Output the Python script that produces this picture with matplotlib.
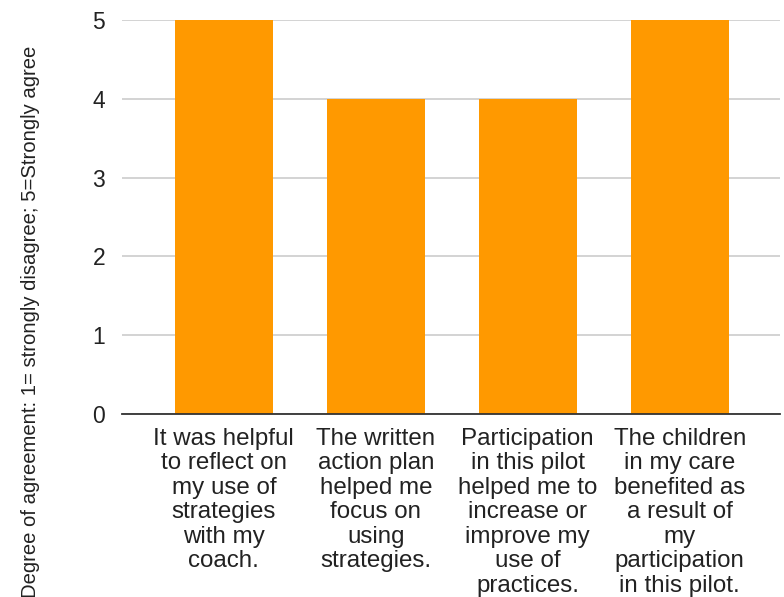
import matplotlib
matplotlib.use("Agg")
import matplotlib.pyplot as plt

categories = [
    "It was helpful\nto reflect on\nmy use of\nstrategies\nwith my\ncoach.",
    "The written\naction plan\nhelped me\nfocus on\nusing\nstrategies.",
    "Participation\nin this pilot\nhelped me to\nincrease or\nimprove my\nuse of\npractices.",
    "The children\nin my care\nbenefited as\na result of\nmy\nparticipation\nin this pilot.",
]
scores = [5, 4, 4, 5]
y_ticks = [0, 1, 2, 3, 4, 5]
y_label = "Degree of agreement: 1= strongly disagree; 5=Strongly agree"

plt.rcParams["font.family"] = ["Liberation Sans", "DejaVu Sans"]

W, H = 784, 597
fig = plt.figure(figsize=(W / 100, H / 100), dpi=100)
ax = fig.add_axes([122 / W, 1 - 414 / H, (780 - 122) / W, (414 - 20) / H])

x = list(range(len(categories)))
ax.bar(x, scores, width=0.645, color="#FF9900", zorder=3)

ax.set_xlim(-0.67, len(categories) - 1 + 0.66)
ax.set_ylim(0, 5)
ax.set_yticks(y_ticks)
ax.set_yticklabels([str(t) for t in y_ticks], fontsize=16.5, color="#222222")
ax.set_xticks(x)
ax.set_xticklabels(categories, fontsize=17.4, color="#222222",
                   linespacing=1.145, multialignment="center")
ax.tick_params(axis="both", length=0)
ax.tick_params(axis="y", pad=12)
ax.tick_params(axis="x", pad=10)

ax.grid(axis="y", color="#cccccc", linewidth=1.2, zorder=0)
for side in ["top", "right", "left"]:
    ax.spines[side].set_visible(False)
ax.spines["bottom"].set_color("#333333")
ax.spines["bottom"].set_linewidth(1.3)
ax.spines["bottom"].set_zorder(4)

fig.text(31 / W, 1 - 322 / H, y_label, rotation=90, ha="center", va="center",
         fontsize=14.6, color="#222222")

fig.savefig("out.png", dpi=100)
